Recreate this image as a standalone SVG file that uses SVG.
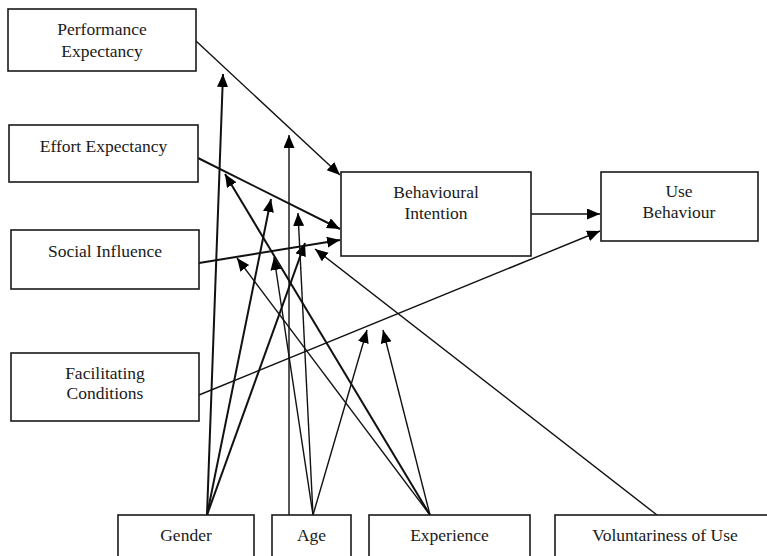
<svg xmlns="http://www.w3.org/2000/svg" width="767" height="556" viewBox="0 0 767 556">
  <style>
    .box { fill: #ffffff; stroke: #1a1a1a; stroke-width: 1.6; }
    .lbl { font-family: "Liberation Serif", "Times New Roman", serif; font-size: 17.5px; fill: #1a1a1a; text-anchor: middle; }
    .edge { fill: none; stroke: #111111; stroke-width: 1.4; marker-end: url(#head); }
    .thick { stroke-width: 2; }
  </style>
  <defs>
    <marker id="head" markerUnits="userSpaceOnUse" markerWidth="15" markerHeight="13" refX="13" refY="5.5" orient="auto">
      <path d="M0,0 L13,5.5 L0,11 Z" fill="#000000"/>
    </marker>
  </defs>
  <rect width="767" height="556" fill="#ffffff"/>

  <!-- connectors -->
  <g id="connectors">
    <path class="edge" d="M196,41 L340,175"/>
    <path class="edge thick" d="M198,158 L340,229"/>
    <path class="edge thick" d="M199,263 L340,240"/>
    <path class="edge" d="M531,214 L600,214"/>
    <path class="edge" d="M199,395 L600,231"/>
    <!-- gender moderation -->
    <path class="edge thick" d="M207,515 L223,74"/>
    <path class="edge thick" d="M207,515 L271,199"/>
    <path class="edge thick" d="M207,515 L305,243"/>
    <!-- age moderation -->
    <path class="edge" d="M289,515 L289,135"/>
    <path class="edge" d="M313,515 L274,257"/>
    <path class="edge" d="M313,515 L298,213"/>
    <path class="edge" d="M313,515 L367,330"/>
    <!-- experience moderation -->
    <path class="edge thick" d="M430,515 L225,174"/>
    <path class="edge" d="M430,515 L237,258"/>
    <path class="edge" d="M430,515 L383,330"/>
    <!-- voluntariness moderation -->
    <path class="edge" d="M657,515 L315,249"/>
  </g>

  <g id="performance-expectancy">
    <rect class="box" x="8" y="9" width="188" height="62"/>
    <text class="lbl" x="102" y="34.5">Performance</text>
    <text class="lbl" x="102" y="56.5">Expectancy</text>
  </g>
  <g id="effort-expectancy">
    <rect class="box" x="9" y="125" width="189" height="57"/>
    <text class="lbl" x="103.5" y="152">Effort Expectancy</text>
  </g>
  <g id="social-influence">
    <rect class="box" x="11" y="230" width="188" height="59"/>
    <text class="lbl" x="105" y="257">Social Influence</text>
  </g>
  <g id="facilitating-conditions">
    <rect class="box" x="11" y="353" width="188" height="68"/>
    <text class="lbl" x="105" y="378.5">Facilitating</text>
    <text class="lbl" x="105" y="398.5">Conditions</text>
  </g>
  <g id="behavioural-intention">
    <rect class="box" x="341" y="172" width="190" height="84"/>
    <text class="lbl" x="436" y="197.5">Behavioural</text>
    <text class="lbl" x="436" y="219">Intention</text>
  </g>
  <g id="use-behaviour">
    <rect class="box" x="601" y="172" width="157" height="69"/>
    <text class="lbl" x="679" y="197">Use</text>
    <text class="lbl" x="679" y="217.5">Behaviour</text>
  </g>
  <g id="gender">
    <rect class="box" x="118" y="515" width="136" height="50"/>
    <text class="lbl" x="186" y="540.5">Gender</text>
  </g>
  <g id="age">
    <rect class="box" x="272" y="515" width="79" height="50"/>
    <text class="lbl" x="311.5" y="540.5">Age</text>
  </g>
  <g id="experience">
    <rect class="box" x="369" y="515" width="161" height="50"/>
    <text class="lbl" x="449.5" y="540.5">Experience</text>
  </g>
  <g id="voluntariness-of-use">
    <rect class="box" x="555" y="515" width="220" height="50"/>
    <text class="lbl" x="665" y="540.5">Voluntariness of Use</text>
  </g>
</svg>
